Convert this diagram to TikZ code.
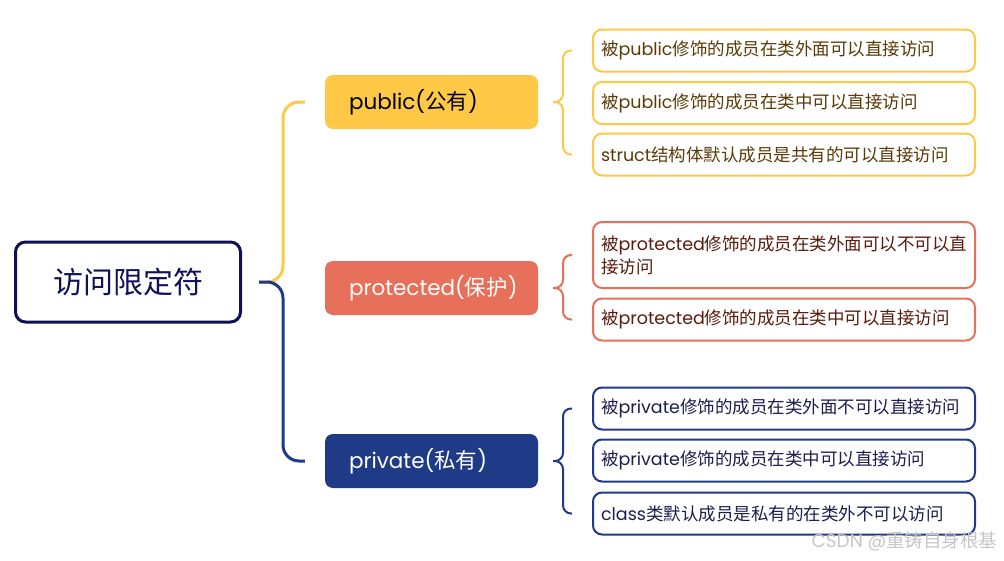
\documentclass[tikz,border=0pt]{standalone}
\usepackage{fontspec}
\setmainfont{Noto Sans CJK SC}
\newfontfamily\lat{Poppins}
\definecolor{cy}{HTML}{FFC847}
\definecolor{cr}{HTML}{E6705A}
\definecolor{cb}{HTML}{1F3A87}
\definecolor{cn}{HTML}{0E1157}
\definecolor{ty}{HTML}{5A3A05}
\definecolor{tr}{HTML}{5A1A0C}
\definecolor{tb}{HTML}{1B1D4F}
\tikzset{
  rootbox/.style={draw=cn, line width=3pt, rounded corners=10pt, minimum width=225pt, minimum height=80pt, text=cn, font=\fontsize{30}{36}\selectfont},
  catbox/.style={rounded corners=8pt, inner xsep=24pt, text width=165pt, minimum height=54pt, align=left, font=\fontsize{21.5}{26}\selectfont},
  leafbox/.style={draw, line width=2pt, rounded corners=9pt, inner xsep=8pt, text width=366pt, align=left, minimum height=42pt, font=\fontsize{17.5}{23}\selectfont},
  bigline/.style={line width=3pt, rounded corners=16pt},
  brace/.style={line width=2pt, rounded corners=8pt},
}
\begin{document}
\begin{tikzpicture}[x=1pt,y=-1pt]
\useasboundingbox (0,0) rectangle (1004,560);
% root
\node[rootbox] (root) at (128,282) {访问限定符};
% categories
\node[catbox, fill=cy, text=black] (pub) at (431.5,102) {{\lat public(}公有{\lat )}};
\node[catbox, fill=cr, text=white] (pro) at (431.5,288) {{\lat protected(}保护{\lat )}};
\node[catbox, fill=cb, text=white] (pri) at (431.5,461) {{\lat private(}私有{\lat )}};
% leaves
\node[leafbox, draw=cy, text=ty] (l1) at (784,50.5) {被{\lat public}修饰的成员在类外面可以直接访问};
\node[leafbox, draw=cy, text=ty] (l2) at (784,103) {被{\lat public}修饰的成员在类中可以直接访问};
\node[leafbox, draw=cy, text=ty] (l3) at (784,154.5) {{\lat struct}结构体默认成员是共有的可以直接访问};
\node[leafbox, draw=cr, text=tr, minimum height=66pt] (l4) at (784,255) {被{\lat protected}修饰的成员在类外面可以不可以直\\接访问};
\node[leafbox, draw=cr, text=tr] (l5) at (784,319.5) {被{\lat protected}修饰的成员在类中可以直接访问};
\node[leafbox, draw=cb, text=tb] (l6) at (784,408.5) {被{\lat private}修饰的成员在类外面不可以直接访问};
\node[leafbox, draw=cb, text=tb] (l7) at (784,460.5) {被{\lat private}修饰的成员在类中可以直接访问};
\node[leafbox, draw=cb, text=tb] (l8) at (784,513.5) {{\lat class}类默认成员是私有的在类外不可以访问};
% big bracket
\coordinate (rj) at ([xshift=17pt]root.east);
\draw[cy, bigline] (rj) -- (283,282) -- (283,102) -- ([xshift=-20pt]pub.west);
\draw[cb, bigline] (rj) -- (283,282) -- (283,461) -- ([xshift=-20pt]pri.west);
% small braces
\draw[cy, brace] ([xshift=-20pt]l1.west) -- (563,50.5) -- (563,102) -- ([xshift=15pt]pub.east);
\draw[cy, brace] ([xshift=-20pt]l3.west) -- (563,154.5) -- (563,102) -- ([xshift=15pt]pub.east);
\draw[cr, brace] (572,255) -- (563,255) -- (563,288) -- ([xshift=15pt]pro.east);
\draw[cr, brace] ([xshift=-20pt]l5.west) -- (563,319.5) -- (563,288) -- ([xshift=15pt]pro.east);
\draw[cb, brace] ([xshift=-20pt]l6.west) -- (563,408.5) -- (563,461) -- ([xshift=15pt]pri.east);
\draw[cb, brace] ([xshift=-20pt]l8.west) -- (563,513.5) -- (563,461) -- ([xshift=15pt]pri.east);
% watermark
\node[text=gray!45, font=\fontsize{18.5}{22}\selectfont, anchor=east] (wm) at (1001,542) {{\lat CSDN @}重铸自身根基};
\end{tikzpicture}
\end{document}
